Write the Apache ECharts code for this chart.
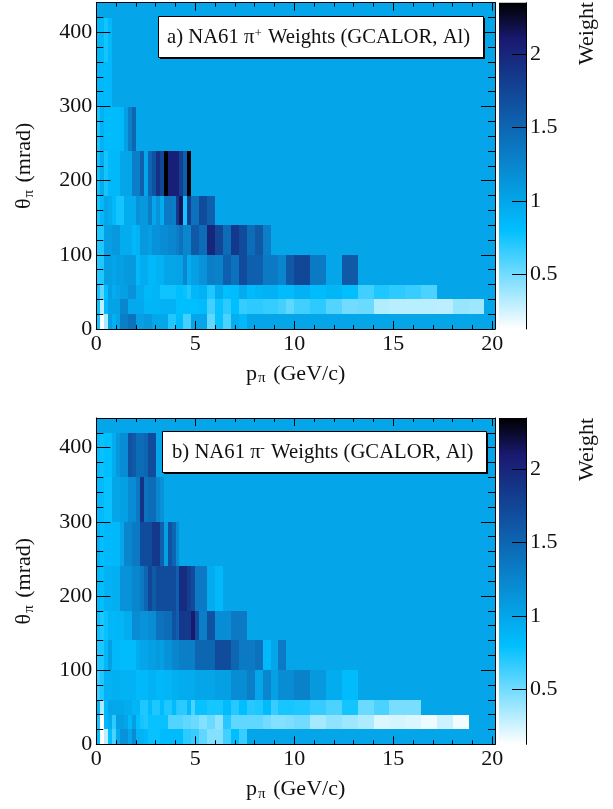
<!DOCTYPE html>
<html><head><meta charset="utf-8">
<style>html,body{margin:0;padding:0;background:#fff}#c{width:613px;height:809px}</style>
<script src="https://cdn.jsdelivr.net/npm/echarts@6/dist/echarts.min.js"></script>
</head><body><div id="c"></div>
<script>
// Each row: [bin upper edge in GeV/c, weight] from p = 0 upward; the name gives the lower theta edge.
const plusTheta0 = [[.2,.75],[.4,.126],[.6,.35],[.8,1.05],[1,.9],[1.2,1],[1.6,1.3],[2,1.4],[2.4,1.05],[2.8,1.1],[3.6,.98],[4,.72],[4.4,.82],[4.8,.62],[5.6,1],[6,.55],[6.4,.78],[6.8,.6],[7.2,.92],[7.6,.85]];
const plusTheta20 = [[.2,.78],[.4,.3],[.6,.85],[1.2,1.02],[1.6,1.25],[2.4,.97],[3.2,.87],[4,.9],[4.8,.8],[5.2,.8],[5.6,.83],[6,.62],[6.4,.78],[6.8,.68],[7.2,.8],[7.6,.66],[8.4,.68],[9.2,.66],[9.6,.62],[10,.55],[10.8,.63],[11.6,.68],[12.4,.58],[13.2,.5],[14,.52],[14.8,.33],[15.6,.31],[16.4,.31],[17.2,.31],[18,.3],[18.8,.4],[19.6,.38]];
const plusTheta40 = [[.2,.75],[.4,.55],[.6,.8],[.8,1.05],[1,.95],[1.2,1],[1.6,1.05],[2,1.15],[2.4,.95],[2.8,.85],[3.2,.88],[3.6,.76],[4,.76],[4.4,.8],[4.6,.78],[4.8,.72],[5.2,.86],[5.6,.9],[6,.72],[6.4,.95],[6.8,.8],[7.2,.82],[7.6,.95],[8,.84],[8.4,.88],[9.2,.9],[10,.82],[10.8,.9],[11.6,.82],[12.4,.87],[13.2,.8],[14,.63],[14.8,.72],[15.6,.68],[16.4,.65],[17.2,.6]];
const plusTheta60 = [[.2,.7],[.4,.72],[.8,1.05],[1,1],[1.4,1.05],[2,1.1],[2.2,.85],[2.6,.95],[3,.85],[3.4,.9],[4,1],[4.4,1.02],[4.6,1.25],[4.8,.95],[5.2,1.05],[5.6,1.15],[6,1.3],[6.4,1.28],[6.8,1.55],[7.2,1.4],[7.6,1.7],[8.4,1.55],[9.2,1.35],[9.6,1.25],[10,1.6],[10.8,1.75],[11.6,1.35],[12.4,1],[13.2,1.6]];
const plusTheta100 = [[.2,.72],[.4,.72],[.8,1.05],[1.2,1.1],[1.8,.95],[2,.85],[2.2,.9],[2.6,1.1],[2.8,1.05],[3.2,1.15],[3.6,1.2],[4,1.25],[4.2,1.3],[4.4,1.4],[4.8,1.25],[5.2,1.6],[5.6,1.45],[6,2],[6.4,1.75],[6.8,1.45],[7.2,1.85],[7.6,1.7],[8,1.45],[8.4,1.6],[8.8,1.3]];
const plusTheta140 = [[.2,.75],[.4,.85],[.6,1],[.8,.95],[1,.85],[1.4,.75],[2,.95],[2.2,1.15],[2.6,1.1],[2.8,1.3],[3,1],[3.2,1.15],[3.4,.95],[3.8,1.35],[4,1.3],[4.2,1.85],[4.4,2.15],[4.6,.75],[4.8,1.8],[5.2,1.4],[5.6,1.7],[6,1.55]];
const plusTheta180 = [[.2,.78],[.4,.95],[.6,.75],[1.2,.85],[1.8,1],[2.2,1.3],[2.4,1.55],[2.6,1],[2.8,1.5],[3,1.65],[3.2,1.9],[3.4,1.75],[3.6,2.35],[4.2,2.05],[4.4,1.8],[4.6,1.55],[4.8,2.35]];
const plusTheta240 = [[.2,.75],[.4,.9],[1.2,.82],[1.4,.85],[1.6,1.05],[1.8,1.3],[2,1.5]];
const plusTheta300 = [[.2,.88],[.4,.85],[.6,.82],[.8,.85]];
const plusTheta360 = [[.2,.88],[.4,.85],[.6,.75],[.8,.85]];

const minusTheta0 = [[.2,.8],[.4,.126],[.6,.3],[.8,.8],[1,.6],[1.2,.95],[1.6,1.15],[1.8,1],[2,1.2],[2.4,.9],[2.6,.85],[3.2,.78],[3.6,.82],[4.4,.82],[4.8,.68],[5.2,.65],[5.6,.55],[6.4,.45],[6.8,.62],[7.2,.8],[7.6,.65]];
const minusTheta20 = [[.2,.75],[.4,.126],[.6,.85],[.8,.95],[1,.68],[1.4,1.05],[1.6,1],[1.8,.85],[2,1.05],[2.2,.8],[2.4,.75],[2.6,.72],[2.8,.78],[3.6,.78],[4.4,.58],[4.8,.55],[5.2,.52],[5.6,.45],[6,.52],[6.4,.42],[6.8,.7],[7.6,.55],[8.4,.55],[8.8,.5],[9.6,.45],[10,.47],[10.8,.5],[11.6,.36],[12.4,.42],[13.2,.38],[14,.34],[14.8,.22],[15.6,.24],[16.4,.22],[17.2,.17],[18,.26],[18.8,.16]];
const minusTheta40 = [[.2,.85],[.4,.35],[.6,.85],[.8,1],[1.4,.98],[1.8,.95],[2.2,.88],[2.6,.72],[2.8,.82],[3.2,.72],[3.4,.82],[3.8,.72],[4,.82],[4.2,.7],[4.6,.68],[4.8,.82],[5,.6],[5.6,.78],[6.4,.74],[6.8,.82],[7.2,.7],[7.6,.8],[8,.7],[8.4,.72],[8.8,.82],[9.2,.65],[10,.74],[10.8,.72],[11.6,.66],[12.4,.6],[13.2,.75],[14,.52],[14.8,.6],[15.6,.48],[16.4,.48]];
const minusTheta60 = [[.2,.65],[.4,.72],[.8,.9],[1.2,.92],[2,.9],[2.2,.82],[2.6,.85],[3,.9],[3.4,.85],[3.8,.88],[4.2,.92],[5,.95],[6,1],[6.8,1.05],[7.6,1.2],[8,1.3],[8.4,1],[8.8,1.25],[9.2,1.05],[10,1.2],[10.8,1.28],[11.6,1.1],[12.4,.95],[13.2,.82]];
const minusTheta100 = [[.2,.72],[.4,.72],[.6,.85],[.8,1.05],[1.2,.85],[2,.82],[2.2,.95],[2.6,1],[3,1.05],[3.2,1.1],[3.4,1.05],[3.8,1.15],[4.2,1.25],[4.6,1.3],[5,1.3],[5.6,1.5],[6,1.5],[6.8,1.7],[7.2,1.5],[8,1.35],[8.4,1.4],[8.8,.85],[9.2,1],[9.6,1.35]];
const minusTheta140 = [[.2,.78],[.4,.72],[.6,.78],[.8,.88],[1,.85],[1.4,.88],[1.8,.95],[2.2,1.2],[2.6,1.15],[3,1.2],[3.4,1.4],[3.8,1.45],[4,1.65],[4.2,1.55],[4.8,1.85],[5,2.1],[5.2,1.7],[5.6,1.3],[6,1.65],[6.8,1.2],[7.6,1.35]];
const minusTheta180 = [[.2,.85],[.4,.8],[.8,.9],[1.2,.92],[1.8,1.15],[2.2,1.25],[2.4,1.35],[2.6,1.5],[2.8,1.75],[3,1.6],[3.8,1.7],[4,1.7],[4.2,1.55],[4.6,1.95],[4.8,1.8],[5,1.7],[5.6,1.35],[6,.95],[6.4,.85]];
const minusTheta240 = [[.2,.9],[.4,.8],[1.2,.85],[1.4,1],[1.8,1.25],[2.2,1.35],[2.8,1.7],[3.2,1.85],[3.4,1.55],[3.6,1.05],[3.8,1.65],[4,1.5],[4.2,1.2],[4.4,1]];
const minusTheta300 = [[.2,.85],[.4,.82],[.8,.78],[1.2,1],[1.6,1.05],[2,1.2],[2.2,1.35],[2.4,1.9],[2.6,1.4],[3,1.45],[3.2,1.25],[3.4,1.15]];
const minusTheta360 = [[.2,.82],[.4,.78],[.8,.8],[1,.95],[1.2,1.1],[1.6,1.2],[1.8,1.65],[2,1.6],[2.4,1.45],[2.6,1.5],[3,1.7]];

const thetaEdges = [0,20,40,60,100,140,180,240,300,360,420];
const plusRows = [plusTheta0,plusTheta20,plusTheta40,plusTheta60,plusTheta100,plusTheta140,plusTheta180,plusTheta240,plusTheta300,plusTheta360];
const minusRows = [minusTheta0,minusTheta20,minusTheta40,minusTheta60,minusTheta100,minusTheta140,minusTheta180,minusTheta240,minusTheta300,minusTheta360];
const defaultWeight = 1;
const xTop = 20.136, yTop = 440;
const weightStops = [0.126, 0.8, 2.1, 2.35];
const colorStops = [[255,255,255],[0,191,255],[25,25,112],[0,0,0]];
const weightTicks = [0.5,1,1.5,2];

function rgb(c){return 'rgb('+c.map(Math.round).join(',')+')';}
function colorOf(w){
  for(let i=1;i<weightStops.length;i++){
    if(w<=weightStops[i]){
      const t=Math.max(0,(w-weightStops[i-1])/(weightStops[i]-weightStops[i-1]));
      return rgb(colorStops[i-1].map((a,k)=>a+(colorStops[i][k]-a)*t));
    }
  }
  return rgb(colorStops[colorStops.length-1]);
}
function cells(rows){
  const out=[[0,xTop,0,yTop,defaultWeight]];
  rows.forEach((row,r)=>{let x0=0;row.forEach(b=>{out.push([x0,b[0],thetaEdges[r],thetaEdges[r+1],b[1]]);x0=b[0];});});
  return out;
}
function renderCell(p,api){
  const a=api.coord([api.value(0),api.value(2)]),b=api.coord([api.value(1),api.value(3)]);
  const x0=Math.round(a[0]),x1=Math.round(b[0]),y0=Math.round(b[1]),y1=Math.round(a[1]);
  return {type:'rect',shape:{x:x0,y:y0,width:x1-x0,height:y1-y0},style:{fill:colorOf(api.value(4))}};
}
function renderBar(p,api){
  const a=api.coord([0,api.value(0)]),b=api.coord([1,api.value(1)]);
  const lo=api.value(0),hi=api.value(1);
  const stops=weightStops.map((w,i)=>({offset:(hi-w)/(hi-lo),color:rgb(colorStops[i])})).reverse();
  return {type:'rect',shape:{x:a[0],y:b[1],width:b[0]-a[0],height:a[1]-b[1]},
    style:{fill:new echarts.graphic.LinearGradient(0,0,0,1,stops)}};
}
const FONT='"Liberation Serif","Times New Roman",serif';
const BLACK='#000';
const tops=[2.7,418], H=326.3, L=96.3, W=398.7, BL=499, BW=27;
const grids=[],xAxes=[],yAxes=[],series=[];
const subRich={sub:{fontFamily:FONT,fontSize:15,color:'#111',verticalAlign:'bottom',padding:[9,2,0,1]},base:{fontFamily:FONT,fontSize:22,color:'#111'}};
[plusRows,minusRows].forEach((rows,i)=>{
  const g=grids.length;
  grids.push({left:L,top:tops[i],width:W,height:H});
  grids.push({left:BL,top:tops[i],width:BW,height:H});
  const xi=xAxes.length,yi=yAxes.length;
  const line={show:true,onZero:false,lineStyle:{color:BLACK,width:1}};
  xAxes.push({type:'value',gridIndex:g,position:'bottom',min:0,max:xTop,interval:5,z:5,splitLine:{show:false},
    axisLine:line,axisTick:{show:true,inside:true,length:8,lineStyle:{color:BLACK}},
    minorTick:{show:true,splitNumber:5,length:4,lineStyle:{color:BLACK}},
    axisLabel:{show:true,showMaxLabel:false,fontFamily:FONT,fontSize:22,color:'#111',margin:4},
    name:'{base|p}{sub|π}{base| (GeV/c)}',nameLocation:'middle',nameGap:33,nameTextStyle:{rich:subRich,fontFamily:FONT,fontSize:22}});
  xAxes.push({type:'value',gridIndex:g,position:'top',min:0,max:xTop,interval:5,z:5,splitLine:{show:false},
    axisLine:line,axisTick:{show:true,inside:true,length:8,lineStyle:{color:BLACK}},
    minorTick:{show:true,splitNumber:5,length:4,lineStyle:{color:BLACK}},axisLabel:{show:false}});
  xAxes.push({type:'value',gridIndex:g+1,min:0,max:1,show:false});
  yAxes.push({type:'value',gridIndex:g,position:'left',min:0,max:yTop,interval:100,z:5,splitLine:{show:false},
    axisLine:line,axisTick:{show:true,inside:true,length:14,lineStyle:{color:BLACK}},
    minorTick:{show:true,splitNumber:5,length:7,lineStyle:{color:BLACK}},
    axisLabel:{show:true,showMaxLabel:false,fontFamily:FONT,fontSize:22,color:'#111',margin:4},
    name:'{base|θ}{sub|π}{base| (mrad)}',nameLocation:'middle',nameGap:60,nameRotate:90,nameTextStyle:{rich:subRich,fontFamily:FONT,fontSize:22}});
  yAxes.push({type:'value',gridIndex:g,position:'right',min:0,max:yTop,interval:100,z:5,splitLine:{show:false},
    axisLine:line,axisTick:{show:true,inside:true,length:14,lineStyle:{color:BLACK}},
    minorTick:{show:true,splitNumber:5,length:7,lineStyle:{color:BLACK}},axisLabel:{show:false}});
  yAxes.push({type:'value',gridIndex:g+1,position:'right',min:weightStops[0],max:weightStops[3],z:5,splitLine:{show:false},
    axisLine:line,
    axisTick:{show:true,inside:true,length:14,customValues:weightTicks,lineStyle:{color:BLACK}},
    axisLabel:{show:true,customValues:weightTicks,fontFamily:FONT,fontSize:22,color:'#111',margin:4,formatter:v=>String(v)}});
  series.push({type:'custom',name:'weights'+i,xAxisIndex:xi,yAxisIndex:yi,z:1,silent:true,animation:false,
    renderItem:renderCell,encode:{x:[0,1],y:[2,3]},data:cells(rows)});
  series.push({type:'custom',name:'scale'+i,xAxisIndex:xi+2,yAxisIndex:yi+2,z:1,silent:true,animation:false,
    renderItem:renderBar,encode:{y:[0,1]},data:[[weightStops[0],weightStops[3]]]});
});
function legendBox(x,y,w,h,tx,label){
  return [
    {type:'rect',z:20,shape:{x:x+2,y:y+2,width:w,height:h},style:{fill:'#000'}},
    {type:'rect',z:21,shape:{x:x+.5,y:y+.5,width:w,height:h},style:{fill:'#fff',stroke:'#000',lineWidth:1}},
    {type:'text',z:22,x:tx,y:y+h/2+1,style:{text:label,fontFamily:FONT,fontSize:20.7,fill:'#111',verticalAlign:'middle',
      rich:{sup:{fontFamily:FONT,fontSize:13,fill:'#111',verticalAlign:'top',padding:[0,1,7,0]}}}}
  ];
}
function weightTitle(y){
  return {type:'text',z:22,x:587,y:y,rotation:Math.PI/2,style:{text:'Weight',fontFamily:FONT,fontSize:22,fill:'#111',align:'right',verticalAlign:'middle'}};
}
const chart=echarts.init(document.getElementById('c'),null,{renderer:'canvas'});
chart.setOption({animation:false,backgroundColor:'#fff',grid:grids,xAxis:xAxes,yAxis:yAxes,series:series,
  graphic:[].concat(
    legendBox(158,16,325,41,167,'a) NA61 π{sup|+} Weights (GCALOR, Al)'),
    legendBox(162,431,324,41,172,'b) NA61 π{sup|-} Weights (GCALOR, Al)'),
    [weightTitle(2),weightTitle(418)])});
</script></body></html>
